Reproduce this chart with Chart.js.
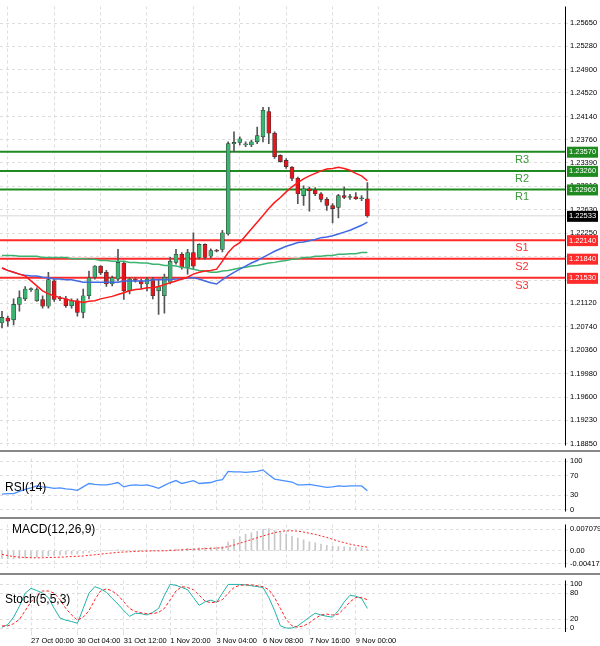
<!DOCTYPE html>
<html>
<head>
<meta charset="utf-8">
<script src="https://cdn.jsdelivr.net/npm/chart.js@4.4.1/dist/chart.umd.min.js"></script>
<style>
  body { margin: 0; background: #fff; }
  #wrap { position: relative; width: 600px; height: 646px; overflow: hidden; }
  #wrap div { position: absolute; left: 0; width: 600px; }
  #sep1, #sep2, #sep3 { background: #888; height: 2px; }
</style>
</head>
<body>
<div id="wrap">
  <div style="top:0;height:452px"><canvas id="cMain"></canvas></div>
  <div id="sep1" style="top:450px"></div>
  <div style="top:452px;height:66px"><canvas id="cRsi"></canvas></div>
  <div id="sep2" style="top:517px"></div>
  <div style="top:518px;height:56px"><canvas id="cMacd"></canvas></div>
  <div id="sep3" style="top:573px"></div>
  <div style="top:574px;height:72px"><canvas id="cStoch"></canvas></div>
</div>
<script>
// 4H candles, EURUSD-style
const opens  = [1.2080,1.2088,1.2085,1.2110,1.2119,1.2134,1.2116,1.2118,1.2107,1.2148,1.2120,1.2119,1.2108,1.2116,1.2097,1.2124,
                1.2154,1.2172,1.2162,1.2143,1.2151,1.2177,1.2132,1.2150,1.2148,1.2143,1.2151,1.2132,1.2124,1.2146,1.2178,1.2191,
                1.2170,1.2194,1.2186,1.2207,1.2188,1.2197,1.2199,1.2224,1.2370,1.2372,1.2368,1.2368,1.2373,1.2381,1.2422,1.2387,
                1.2351,1.2343,1.2332,1.2314,1.2286,1.2297,1.2295,1.2289,1.2280,1.2270,1.2267,1.2286,1.2283,1.2284,1.2281,1.2281];
const highs  = [1.2099,1.2091,1.2119,1.2132,1.2139,1.2137,1.2137,1.2124,1.2162,1.2151,1.2123,1.2123,1.2119,1.2119,1.2135,1.2164,
                1.2173,1.2173,1.2165,1.2156,1.2199,1.2180,1.2154,1.2153,1.2151,1.2154,1.2154,1.2151,1.2159,1.2186,1.2199,1.2194,
                1.2199,1.2226,1.2208,1.2208,1.2200,1.2199,1.2230,1.2373,1.2389,1.2381,1.2373,1.2376,1.2397,1.2429,1.2429,1.2389,
                1.2352,1.2346,1.2333,1.2316,1.2302,1.2300,1.2299,1.2291,1.2283,1.2273,1.2288,1.2300,1.2288,1.2291,1.2286,1.2307];
const lows   = [1.2072,1.2075,1.2077,1.2099,1.2116,1.2131,1.2115,1.2104,1.2104,1.2115,1.2116,1.2105,1.2104,1.2091,1.2088,1.2119,
                1.2151,1.2158,1.2139,1.2140,1.2148,1.2118,1.2127,1.2146,1.2135,1.2132,1.2119,1.2094,1.2096,1.2143,1.2175,1.2167,
                1.2159,1.2167,1.2183,1.2183,1.2185,1.2195,1.2195,1.2222,1.2357,1.2368,1.2365,1.2365,1.2370,1.2373,1.2370,1.2346,
                1.2340,1.2330,1.2310,1.2273,1.2270,1.2261,1.2286,1.2276,1.2262,1.2242,1.2250,1.2281,1.2280,1.2280,1.2278,1.2251];
const closes = [1.2089,1.2083,1.2110,1.2121,1.2135,1.2135,1.2134,1.2107,1.2150,1.2118,1.2119,1.2108,1.2116,1.2097,1.2124,1.2153,
                1.2172,1.2161,1.2143,1.2153,1.2178,1.2132,1.2151,1.2149,1.2143,1.2151,1.2124,1.2139,1.2154,1.2180,1.2191,1.2170,
                1.2194,1.2172,1.2207,1.2186,1.2197,1.2196,1.2226,1.2370,1.2372,1.2378,1.2369,1.2373,1.2383,1.2424,1.2387,1.2349,
                1.2341,1.2333,1.2314,1.2289,1.2297,1.2294,1.2289,1.2280,1.2270,1.2265,1.2286,1.2283,1.2284,1.2281,1.2282,1.2253];

const maRed   = [1.2169,1.2165,1.2162,1.2159,1.2156,1.2148,1.2140,1.2132,1.2127,1.2124,1.2121,1.2119,1.2116,1.2115,1.2113,1.2115,
                 1.2116,1.2119,1.2121,1.2123,1.2126,1.2129,1.2132,1.2134,1.2135,1.2137,1.2137,1.2139,1.2142,1.2145,1.2148,1.2151,
                 1.2154,1.2159,1.2162,1.2164,1.2165,1.2167,1.2180,1.2194,1.2204,1.2210,1.2221,1.2232,1.2243,1.2254,1.2265,1.2275,
                 1.2283,1.2292,1.2300,1.2307,1.2313,1.2318,1.2322,1.2326,1.2329,1.2330,1.2332,1.2330,1.2327,1.2322,1.2318,1.2310];
const maBlue  = [1.2169,1.2165,1.2162,1.2159,1.2157,1.2156,1.2156,1.2154,1.2153,1.2151,1.2151,1.2150,1.2150,1.2148,1.2146,1.2146,
                 1.2146,1.2146,1.2146,1.2146,1.2146,1.2148,1.2148,1.2148,1.2148,1.2148,1.2150,1.2150,1.2150,1.2150,1.2151,1.2151,
                 1.2153,1.2153,1.2151,1.2148,1.2145,1.2143,1.2150,1.2156,1.2162,1.2167,1.2172,1.2177,1.2181,1.2186,1.2191,1.2196,
                 1.2200,1.2204,1.2207,1.2210,1.2211,1.2213,1.2215,1.2218,1.2219,1.2221,1.2224,1.2227,1.2230,1.2234,1.2238,1.2243];
const maGreen = [1.2189,1.2189,1.2189,1.2188,1.2188,1.2188,1.2188,1.2186,1.2186,1.2186,1.2186,1.2186,1.2184,1.2184,1.2184,1.2183,
                 1.2183,1.2181,1.2181,1.2180,1.2180,1.2180,1.2178,1.2178,1.2177,1.2177,1.2175,1.2175,1.2173,1.2173,1.2172,1.2170,
                 1.2169,1.2167,1.2165,1.2164,1.2162,1.2162,1.2164,1.2165,1.2167,1.2169,1.2170,1.2172,1.2173,1.2175,1.2177,1.2178,
                 1.2180,1.2181,1.2183,1.2184,1.2186,1.2186,1.2188,1.2188,1.2189,1.2189,1.2191,1.2191,1.2192,1.2192,1.2194,1.2194];

const rsi = [32,33,33,38,42,45,49,47,46,44,45,43,42,40,47,54,52,51,51,53,56,47,50,51,50,51,48,44,50,56,60,54,
             57,60,54,55,56,60,62,79,78,78,77,78,79,82,72,63,61,59,57,51,51,52,50,48,46,47,49,48,49,49,49,39];
const macdHist = [-0.0025,-0.0026,-0.0026,-0.0025,-0.0024,-0.0022,-0.0020,-0.0019,-0.0017,-0.0015,-0.0014,-0.0012,-0.0011,-0.0010,-0.0008,-0.0005,
                  -0.0003,-0.0002,0,0.0001,0.0003,0.0002,0.0001,0.0001,0.0001,0.0001,0,0,0.0001,0.0004,0.0006,0.0006,
                  0.0008,0.0009,0.0010,0.0011,0.0011,0.0012,0.0014,0.0029,0.0038,0.0047,0.0054,0.0059,0.0064,0.0071,0.0073,0.0068,
                  0.0062,0.0055,0.0048,0.0042,0.0036,0.0030,0.0026,0.0022,0.0018,0.0015,0.0014,0.0013,0.0012,0.0011,0.0010,0.0006];
const macdSignal = [-0.0012,-0.0016,-0.0019,-0.0021,-0.0022,-0.0023,-0.0023,-0.0023,-0.0022,-0.0022,-0.0021,-0.0020,-0.0019,-0.0018,-0.0017,-0.0015,
                    -0.0013,-0.0011,-0.0009,-0.0007,-0.0005,-0.0004,-0.0003,-0.0002,-0.0001,-0.0001,0,0,0,0.0001,0.0002,0.0003,
                    0.0004,0.0005,0.0006,0.0007,0.0008,0.0009,0.0010,0.0014,0.0019,0.0025,0.0031,0.0037,0.0043,0.0049,0.0055,0.0060,
                    0.0064,0.0066,0.0066,0.0065,0.0062,0.0058,0.0054,0.0049,0.0044,0.0038,0.0032,0.0027,0.0022,0.0018,0.0015,0.0012];
const stochMain = [2,8,25,50,80,91,86,80,70,45,23,18,15,11,45,80,95,90,82,68,55,40,27,34,33,30,36,45,75,100,98,93,
                   88,70,52,60,64,59,80,100,100,100,99,97,95,93,70,40,5,0,0,5,15,25,34,30,27,25,40,60,75,73,68,45];
const stochSignal = [5,5,10,20,40,60,75,85,85,80,65,45,30,18,25,40,65,85,90,85,75,60,45,38,35,33,33,36,45,65,85,95,
                     93,88,75,62,58,60,65,80,93,98,99,99,97,95,88,70,45,20,5,2,5,12,22,30,32,30,32,45,60,70,70,65];

const priceTicks = [1.2565,1.2528,1.2490,1.2452,1.2414,1.2376,1.2339,1.2301,1.2263,1.2225,1.2187,1.2149,1.2112,1.2074,1.2036,1.1998,1.1960,1.1923,1.1885];
const timeLabels = ["27 Oct 00:00","30 Oct 04:00","31 Oct 12:00","1 Nov 20:00","3 Nov 04:00","6 Nov 08:00","7 Nov 16:00","9 Nov 00:00"];
const timeLabelIdx = [5,13,21,29,37,45,53,61];

const levels = [
  { name: "R3", value: 1.23570, color: "#1f8a1f" },
  { name: "R2", value: 1.23260, color: "#1f8a1f" },
  { name: "R1", value: 1.22960, color: "#1f8a1f" },
  { name: "S1", value: 1.22140, color: "#ff2a2a" },
  { name: "S2", value: 1.21840, color: "#ff2a2a" },
  { name: "S3", value: 1.21530, color: "#ff2a2a" }
];
const lastPrice = 1.22533;

const FONT = "'Liberation Sans', Arial, sans-serif";
const X_MIN = -0.345, X_MAX = 97.07;
const gridIdx = [];
for (let i = 1; i < 97; i += 4) gridIdx.push(i);

const idx = opens.map((_, i) => i);
const pts = arr => arr.map((v, i) => ({ x: i, y: v }));

function xScale(showLabels) {
  return {
    type: "linear", min: X_MIN, max: X_MAX, offset: false,
    afterBuildTicks: s => { s.ticks = (showLabels ? timeLabelIdx : gridIdx).map(v => ({ value: v })); },
    ticks: {
      display: showLabels, align: "start", padding: 1, maxRotation: 0, autoSkip: false,
      color: "#000", font: { family: FONT, size: 7.5 },
      callback: v => timeLabels[timeLabelIdx.indexOf(v)]
    },
    grid: { color: "#ddd", drawTicks: showLabels, tickLength: 3 },
    border: { display: false, dash: [3, 3] }
  };
}

function yScale(min, max, ticks, fmt) {
  return {
    position: "right", min, max,
    afterBuildTicks: s => { s.ticks = ticks.map(v => ({ value: v })); },
    afterFit: s => { s.width = 35; },
    ticks: { color: "#000", font: { family: FONT, size: 7.5 }, padding: 2, callback: fmt },
    grid: { color: "#ddd", drawTicks: true, tickLength: 3 },
    border: { display: false, dash: [3, 3] }
  };
}

const frame = {
  id: "frame",
  afterDraw(chart) {
    const { ctx, chartArea: a } = chart;
    ctx.save();
    ctx.strokeStyle = "#000";
    ctx.lineWidth = 1;
    ctx.beginPath();
    ctx.moveTo(a.right + 0.5, a.top);
    ctx.lineTo(a.right + 0.5, a.bottom);
    ctx.stroke();
    ctx.restore();
  }
};

function panelTitle(text, x, y) {
  return {
    id: "title_" + text,
    afterDraw(chart) {
      const ctx = chart.ctx;
      ctx.save();
      ctx.font = "12px " + FONT;
      ctx.fillStyle = "#000";
      ctx.textBaseline = "middle";
      ctx.fillText(text, x, y);
      ctx.restore();
    }
  };
}

const baseOpts = (x, y, padBottom) => ({
  responsive: true, maintainAspectRatio: false, animation: false,
  layout: { padding: { top: 1, bottom: padBottom, left: 0, right: 0 } },
  plugins: { legend: { display: false }, tooltip: { enabled: false } },
  scales: { x, y }
});

// price levels + tags
const levelPlugin = {
  id: "levels",
  beforeDatasetsDraw(chart) {
    const { ctx, chartArea: a, scales: { y } } = chart;
    ctx.save();
    const py = y.getPixelForValue(lastPrice);
    ctx.strokeStyle = "#d8d8d8"; ctx.lineWidth = 1;
    ctx.beginPath(); ctx.moveTo(a.left, py); ctx.lineTo(a.right, py); ctx.stroke();
    for (const l of levels) {
      const p = y.getPixelForValue(l.value);
      ctx.strokeStyle = l.color; ctx.lineWidth = 2;
      ctx.beginPath(); ctx.moveTo(a.left, p); ctx.lineTo(a.right, p); ctx.stroke();
    }
    ctx.restore();
  },
  afterDraw(chart) {
    const { ctx, chartArea: a, scales: { y } } = chart;
    ctx.save();
    ctx.textBaseline = "middle";
    const tag = (v, bg) => {
      const p = y.getPixelForValue(v);
      ctx.font = "7.5px " + FONT;
      ctx.fillStyle = bg;
      ctx.fillRect(a.right + 2, p - 5, 31, 11);
      ctx.fillStyle = "#fff";
      ctx.textAlign = "left";
      ctx.fillText(v.toFixed(5), a.right + 4, p + 0.5);
    };
    for (const l of levels) {
      tag(l.value, l.name[0] === "R" ? "#1f8a1f" : "#ff2a2a");
      const p = y.getPixelForValue(l.value);
      ctx.font = "11px " + FONT;
      ctx.fillStyle = l.name[0] === "R" ? "#3a9a3a" : "#ff3030";
      ctx.textAlign = "center";
      ctx.fillText(l.name, 522, p + 8);
    }
    tag(lastPrice, "#000");
    ctx.restore();
  }
};

const up = closes.map((c, i) => c >= opens[i]);

new Chart(document.getElementById("cMain"), {
  data: {
    datasets: [
      { type: "line", data: pts(maRed), borderColor: "#ff1a1a", borderWidth: 1.5, pointRadius: 0, order: 1 },
      { type: "line", data: pts(maBlue), borderColor: "#4169e1", borderWidth: 1.5, pointRadius: 0, order: 1 },
      { type: "line", data: pts(maGreen), borderColor: "#3cb371", borderWidth: 1.5, pointRadius: 0, order: 1 },
      { type: "bar", data: idx.map(i => ({ x: i, y: [opens[i], closes[i]] })), grouped: false,
        barThickness: 4, backgroundColor: up.map(u => u ? "#3cb371" : "#e8141c"),
        borderColor: "#333", borderWidth: 0.6, borderSkipped: false, minBarLength: 1, order: 2 },
      { type: "bar", data: idx.map(i => ({ x: i, y: [lows[i], highs[i]] })), grouped: false,
        barThickness: 1, backgroundColor: "#555", order: 3 }
    ]
  },
  options: baseOpts(xScale(false), yScale(1.18818, 1.25919, priceTicks, v => v.toFixed(5)), 1),
  plugins: [levelPlugin, frame]
});

new Chart(document.getElementById("cRsi"), {
  data: { datasets: [
    { type: "line", data: pts(rsi), borderColor: "#4a90ff", borderWidth: 1.3, pointRadius: 0 }
  ] },
  options: baseOpts(xScale(false), yScale(-3.5, 105.3, [0, 30, 70, 100], v => v), 2),
  plugins: [frame, panelTitle("RSI(14)", 5, 36)]
});

new Chart(document.getElementById("cMacd"), {
  data: { datasets: [
    { type: "line", data: pts(macdSignal), borderColor: "#ff2020", borderWidth: 1, borderDash: [2, 2], pointRadius: 0, order: 1 },
    { type: "bar", data: pts(macdHist), backgroundColor: "#c8c8c8", barThickness: 1, order: 2 }
  ] },
  options: baseOpts(xScale(false), yScale(-0.005512, 0.008687, [-0.004172, 0, 0.007079],
    v => v === 0 ? "0.00" : v.toFixed(6)), 1),
  plugins: [frame, panelTitle("MACD(12,26,9)", 12, 12)]
});

new Chart(document.getElementById("cStoch"), {
  data: { datasets: [
    { type: "line", data: pts(stochSignal), borderColor: "#ff2020", borderWidth: 1, borderDash: [3, 2], pointRadius: 0 },
    { type: "line", data: pts(stochMain), borderColor: "#20b2aa", borderWidth: 1, pointRadius: 0 }
  ] },
  options: baseOpts(xScale(true), yScale(-9, 109, [0, 20, 80, 100], v => v), 0),
  plugins: [frame, panelTitle("Stoch(5,5,3)", 5, 26)]
});
</script>
</body>
</html>
